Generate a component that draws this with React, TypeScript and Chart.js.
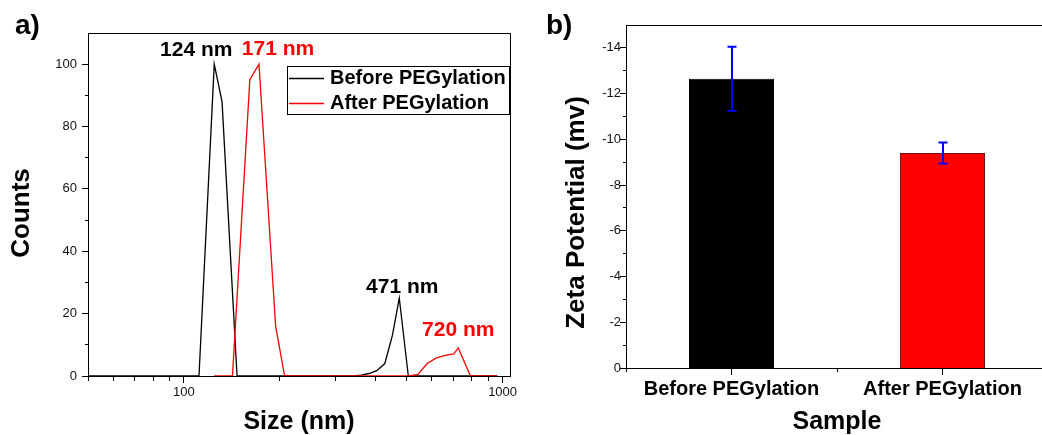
import React, { useEffect, useRef } from 'react';
import { Chart, registerables } from 'chart.js';

Chart.register(...registerables);

const FONT = 'Arial, "Liberation Sans", Helvetica, sans-serif';

// ---- Panel a) DLS size distribution ----
const beforeSize = [50, 111.5, 124.5, 131.7, 146.8, 340, 360, 381, 403, 427, 451, 474, 506, 962];
const beforeCounts = [0, 0, 100, 88, 0, 0, 0.3, 0.8, 1.7, 4, 13, 25, 0, 0];
const afterSize = [124.5, 142, 161, 172, 194, 207, 510, 542, 580, 620, 662, 703, 726, 793, 962];
const afterCounts = [0, 0, 95, 100, 16, 0, 0, 0.5, 4, 5.8, 6.6, 7.1, 9, 0, 0];
const seriesNames = ['Before PEGylation', 'After PEGylation'];
const seriesColors = ['#000000', '#ff0000'];
const peakTexts = ['124 nm', '171 nm', '471 nm', '720 nm'];
const peakSeries = [0, 1, 0, 1];
const peakIndex = [2, 3, 11, 12];
const sizeLabelTicks = [100, 1000];
const sizeMinorTicks = [50, 60, 70, 80, 90, 200, 300, 400, 500, 600, 700, 800, 900];
const countMajorTicks = [0, 20, 40, 60, 80, 100];
const countMinorTicks = [10, 30, 50, 70, 90];

// ---- Panel b) zeta potential ----
const samples = ['Before PEGylation', 'After PEGylation'];
const zetaValues = [-12.65, -9.4];
const zetaErrors = [1.4, 0.46];
const zetaMajorTicks = [0, -2, -4, -6, -8, -10, -12, -14];
const zetaMinorTicks = [-1, -3, -5, -7, -9, -11, -13];
const sampleMinorTicks = [-0.5, 0.5, 1.5];

const align = (p: number) => Math.round(p - 0.5) + 0.5;

function tickMarks(chart: any, axis: 'x' | 'y', values: number[], len: number) {
  const scale = chart.scales[axis];
  const { ctx, chartArea } = chart;
  ctx.save();
  ctx.strokeStyle = '#000';
  ctx.lineWidth = 1;
  ctx.beginPath();
  values.forEach((v) => {
    const p = align(scale.getPixelForValue(v));
    if (axis === 'x') {
      const y0 = Math.round(chartArea.bottom) + 1;
      ctx.moveTo(p, y0);
      ctx.lineTo(p, y0 + len);
    } else {
      const x0 = Math.round(chartArea.left);
      ctx.moveTo(x0, p);
      ctx.lineTo(x0 - len, p);
    }
  });
  ctx.stroke();
  ctx.restore();
}

function frameTopRight(chart: any) {
  const { ctx, chartArea: a } = chart;
  ctx.save();
  ctx.strokeStyle = '#000';
  ctx.lineWidth = 1;
  ctx.beginPath();
  ctx.moveTo(align(a.left), align(a.top));
  ctx.lineTo(align(a.right), align(a.top));
  ctx.lineTo(align(a.right), align(a.bottom));
  ctx.stroke();
  ctx.restore();
}

function text(
  ctx: CanvasRenderingContext2D,
  s: string,
  x: number,
  y: number,
  font: string,
  color: string,
  hAlign: CanvasTextAlign = 'center',
  rot = 0,
  baseline: CanvasTextBaseline = 'middle'
) {
  ctx.save();
  ctx.translate(x, y);
  if (rot) ctx.rotate(rot);
  ctx.font = font;
  ctx.fillStyle = color;
  ctx.textAlign = hAlign;
  ctx.textBaseline = baseline;
  ctx.fillText(s, 0, 0);
  ctx.restore();
}

const peakOffsets = [
  [-18, -14],
  [19, -15],
  [3, -11],
  [0, -17.5],
];

function PanelA() {
  const ref = useRef<HTMLCanvasElement>(null);
  useEffect(() => {
    const canvas = ref.current!;
    const deco = {
      id: 'decoA',
      afterDraw(chart: any) {
        const ctx: CanvasRenderingContext2D = chart.ctx;
        frameTopRight(chart);
        tickMarks(chart, 'x', sizeLabelTicks, 6);
        tickMarks(chart, 'x', sizeMinorTicks, 4);
        tickMarks(chart, 'y', countMajorTicks, 6);
        tickMarks(chart, 'y', countMinorTicks, 3);

        // legend
        ctx.save();
        ctx.strokeStyle = '#000';
        ctx.lineWidth = 1;
        ctx.strokeRect(287.5, 66.5, 222, 48);
        seriesNames.forEach((n, i) => {
          const y = 78.5 + i * 25;
          ctx.strokeStyle = seriesColors[i];
          ctx.lineWidth = 1.3;
          ctx.beginPath();
          ctx.moveTo(289, y);
          ctx.lineTo(324, y);
          ctx.stroke();
          text(ctx, n, 330, y, `bold 20px ${FONT}`, '#000', 'left');
        });
        ctx.restore();

        // peak annotations
        const xs = chart.scales.x;
        const ys = chart.scales.y;
        peakTexts.forEach((t, i) => {
          const sizes = peakSeries[i] === 0 ? beforeSize : afterSize;
          const counts = peakSeries[i] === 0 ? beforeCounts : afterCounts;
          const px = xs.getPixelForValue(sizes[peakIndex[i]]) + peakOffsets[i][0];
          const py = ys.getPixelForValue(counts[peakIndex[i]]) + peakOffsets[i][1];
          text(ctx, t, px, py, `bold 21px ${FONT}`, seriesColors[peakSeries[i]]);
        });

        // titles
        text(ctx, 'Counts', 22, 213, `bold 26px ${FONT}`, '#000', 'center', -Math.PI / 2);
        text(ctx, 'Size (nm)', 299, 422, `bold 25px ${FONT}`, '#000');
        text(ctx, 'a)', 15, 34, `bold 28px ${FONT}`, '#000', 'left', 0, 'alphabetic');
      },
    };
    const chart = new Chart(canvas, {
      type: 'line',
      data: {
        datasets: [
          {
            label: seriesNames[0],
            data: beforeSize.map((x, i) => ({ x, y: beforeCounts[i] })),
            borderColor: seriesColors[0],
            borderWidth: 1.3,
            pointRadius: 0,
            tension: 0,
            order: 1,
          },
          {
            label: seriesNames[1],
            data: afterSize.map((x, i) => ({ x, y: afterCounts[i] })),
            borderColor: seriesColors[1],
            borderWidth: 1.3,
            pointRadius: 0,
            tension: 0,
            order: 0,
          },
        ],
      },
      options: {
        responsive: false,
        animation: false,
        layout: { padding: { left: 0, right: 10, top: 33, bottom: 0 } },
        plugins: { legend: { display: false }, tooltip: { enabled: false } },
        scales: {
          x: {
            type: 'logarithmic',
            min: 50,
            max: 1055,
            grid: { display: false, drawTicks: false },
            border: { display: true, color: '#000', width: 1 },
            ticks: {
              autoSkip: false,
              maxRotation: 0,
              minRotation: 0,
              padding: 9,
              color: '#111',
              font: { family: FONT, size: 13 },
              callback: (v: any) => (sizeLabelTicks.includes(Number(v)) ? String(v) : ''),
            },
            afterFit: (s: any) => {
              s.height = 59;
            },
          },
          y: {
            type: 'linear',
            min: 0,
            max: 110,
            grid: { display: false, drawTicks: false },
            border: { display: true, color: '#000', width: 1 },
            ticks: {
              stepSize: 20,
              includeBounds: false,
              padding: 11,
              color: '#111',
              font: { family: FONT, size: 13 },
            },
            afterFit: (s: any) => {
              s.width = 88;
            },
          },
        },
      } as any,
      plugins: [deco],
    });
    return () => chart.destroy();
  }, []);
  return (
    <canvas
      ref={ref}
      width={520}
      height={435}
      style={{ position: 'absolute', left: 0, top: 0, width: 520, height: 435 }}
    />
  );
}

function PanelB() {
  const ref = useRef<HTMLCanvasElement>(null);
  useEffect(() => {
    const canvas = ref.current!;
    const deco = {
      id: 'decoB',
      afterDatasetsDraw(chart: any) {
        const ctx: CanvasRenderingContext2D = chart.ctx;
        const ys = chart.scales.y;
        const meta = chart.getDatasetMeta(0);
        ctx.save();
        ctx.strokeStyle = '#0000ff';
        ctx.lineWidth = 2;
        meta.data.forEach((bar: any, i: number) => {
          const x = Math.round(bar.x);
          const yA = ys.getPixelForValue(zetaValues[i] - zetaErrors[i]);
          const yB = ys.getPixelForValue(zetaValues[i] + zetaErrors[i]);
          ctx.beginPath();
          ctx.moveTo(x, yA);
          ctx.lineTo(x, yB);
          ctx.moveTo(x - 4.5, yA);
          ctx.lineTo(x + 4.5, yA);
          ctx.moveTo(x - 4.5, yB);
          ctx.lineTo(x + 4.5, yB);
          ctx.stroke();
        });
        ctx.restore();
      },
      afterDraw(chart: any) {
        const ctx: CanvasRenderingContext2D = chart.ctx;
        frameTopRight(chart);
        tickMarks(chart, 'x', [0, 1], 6);
        tickMarks(chart, 'x', sampleMinorTicks, 3);
        tickMarks(chart, 'y', zetaMajorTicks, 6);
        tickMarks(chart, 'y', zetaMinorTicks, 3);
        text(ctx, 'Zeta Potential (mv)', 56.5, 212.5, `bold 26px ${FONT}`, '#000', 'center', -Math.PI / 2);
        text(ctx, 'Sample', 317, 422, `bold 25px ${FONT}`, '#000');
        text(ctx, 'b)', 26, 34, `bold 28px ${FONT}`, '#000', 'left', 0, 'alphabetic');
      },
    };
    const chart = new Chart(canvas, {
      type: 'bar',
      data: {
        labels: samples,
        datasets: [
          {
            data: zetaValues,
            backgroundColor: ['#000000', '#ff0000'],
            borderColor: ['#000000', '#7a1010'],
            borderWidth: 1,
            barPercentage: 0.403,
            categoryPercentage: 1,
          },
        ],
      },
      options: {
        responsive: false,
        animation: false,
        layout: { padding: { left: 0, right: 12, top: 25, bottom: 0 } },
        plugins: { legend: { display: false }, tooltip: { enabled: false } },
        scales: {
          x: {
            grid: { display: false, drawTicks: false },
            border: { display: true, color: '#000', width: 1 },
            ticks: {
              autoSkip: false,
              maxRotation: 0,
              minRotation: 0,
              padding: 9,
              color: '#000',
              font: { family: FONT, size: 20, weight: 'bold' },
            },
            afterFit: (s: any) => {
              s.height = 67;
            },
          },
          y: {
            min: -15,
            max: 0,
            reverse: true,
            grid: { display: false, drawTicks: false },
            border: { display: true, color: '#000', width: 1 },
            ticks: {
              stepSize: 2,
              includeBounds: false,
              padding: 5,
              color: '#111',
              font: { family: FONT, size: 13 },
            },
            afterFit: (s: any) => {
              s.width = 106;
            },
          },
        },
      } as any,
      plugins: [deco],
    });
    return () => chart.destroy();
  }, []);
  return (
    <canvas
      ref={ref}
      width={540}
      height={435}
      style={{ position: 'absolute', left: 520, top: 0, width: 540, height: 435 }}
    />
  );
}

export default function App() {
  return (
    <div
      style={{
        position: 'fixed',
        left: 0,
        top: 0,
        width: 1042,
        height: 435,
        overflow: 'hidden',
        background: '#fff',
      }}
    >
      <PanelA />
      <PanelB />
    </div>
  );
}
